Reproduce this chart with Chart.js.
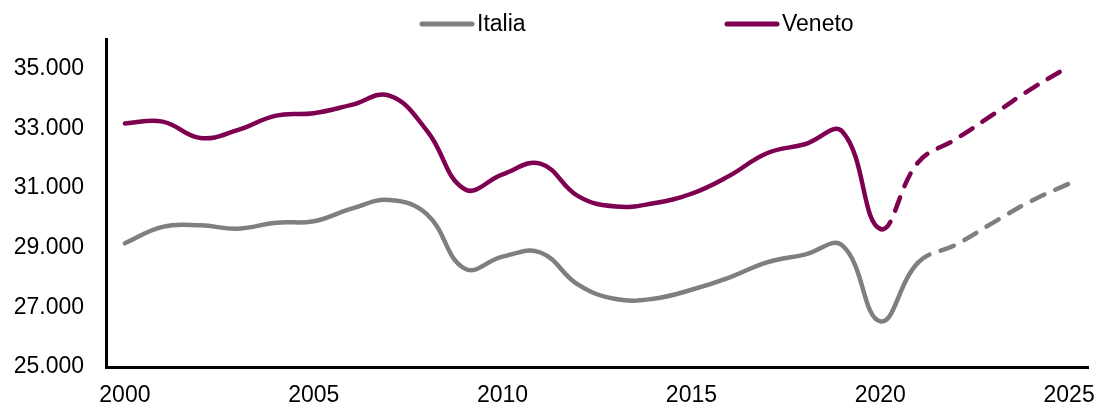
<!DOCTYPE html>
<html>
<head>
<meta charset="utf-8">
<script src="https://cdn.jsdelivr.net/npm/chart.js@4.4.1/dist/chart.umd.min.js"></script>
<style>
    body { margin: 0; background: #fff; }
    #wrap { width: 1098px; height: 405px; position: relative; }
</style>
</head>
<body>
<div id="wrap"><canvas id="reddito"></canvas></div>
<script>
const anni = ['2000', '2001', '2002', '2003', '2004', '2005', '2006', '2007', '2008', '2009',
    '2010', '2011', '2012', '2013', '2014', '2015', '2016', '2017', '2018', '2019',
    '2020', '2021', '2022', '2023', '2024', '2025'];
const italia = [29150, 29700, 29750, 29640, 29840, 29890, 30310, 30600, 30120, 28300,
    28700, 28840, 27760, 27280, 27290, 27590, 28000, 28510, 28770, 29070,
    26530, 28500, 29100, 29850, 30570, 31150];
const veneto = [33170, 33230, 32680, 32950, 33430, 33510, 33790, 34100, 32920, 30960,
    31460, 31820, 30730, 30380, 30490, 30810, 31410, 32170, 32470, 32890,
    29630, 31860, 32640, 33480, 34330, 35080];
const yTicks = [25000, 27000, 29000, 31000, 33000, 35000];

const font = {family: '"Liberation Sans", Arial, sans-serif', size: 23};

function migliaia(v) {
    return String(v).replace(/\B(?=(\d{3})+(?!\d))/g, '.');
}

// previsioni tratteggiate
function tratteggio(fromIndex) {
    return {
        borderDash: ctx => ctx.p0DataIndex >= fromIndex ? [14, 12] : undefined
    };
}

// legenda disegnata a mano, come nel grafico originale
const legendaManuale = {
    id: 'legendaManuale',
    afterDraw(chart) {
        const ctx = chart.ctx;
        const pos = [420, 725];
        ctx.save();
        ctx.font = font.size + 'px ' + font.family;
        ctx.textBaseline = 'middle';
        chart.data.datasets.forEach((ds, i) => {
            const x = pos[i];
            ctx.strokeStyle = ds.borderColor;
            ctx.lineWidth = 5;
            ctx.lineCap = 'round';
            ctx.beginPath();
            ctx.moveTo(x + 2, 24);
            ctx.lineTo(x + 52, 24);
            ctx.stroke();
            ctx.fillStyle = '#000';
            ctx.fillText(ds.label, x + 57, 25);
        });
        ctx.restore();
    }
};

new Chart(document.getElementById('reddito').getContext('2d'), {
    type: 'line',
    data: {
        labels: anni,
        datasets: [
            {label: 'Italia', data: italia, borderColor: '#7f7f7f', borderWidth: 4.5, tension: 0.42,
                pointRadius: 0, borderCapStyle: 'round', borderJoinStyle: 'round', segment: tratteggio(21)},
            {label: 'Veneto', data: veneto, borderColor: '#7e0050', borderWidth: 4.5, tension: 0.42,
                pointRadius: 0, borderCapStyle: 'round', borderJoinStyle: 'round', segment: tratteggio(20)},
        ]
    },
    options: {
        responsive: true,
        maintainAspectRatio: false,
        animation: false,
        layout: {padding: {top: 39, right: 10, left: 0, bottom: 0}},
        plugins: {
            legend: {display: false},
            tooltip: {enabled: false}
        },
        scales: {
            x: {
                type: 'category',
                offset: true,
                grid: {display: false, drawTicks: false},
                border: {display: true, color: '#000', width: 3},
                ticks: {
                    autoSkip: false,
                    maxRotation: 0,
                    padding: 15,
                    color: '#000',
                    font: font,
                    callback: function (v, i) {
                        const a = anni[i];
                        return Number(a) % 5 === 0 ? a : '';
                    }
                },
                afterFit: s => {
                    s.height = 38;
                    s.paddingLeft = 0;
                    s.paddingRight = 0;
                }
            },
            y: {
                min: 25000,
                max: 36000,
                grid: {display: false, drawTicks: false},
                border: {display: true, color: '#000', width: 3},
                afterBuildTicks: s => { s.ticks = yTicks.map(v => ({value: v})); },
                ticks: {
                    padding: 22,
                    color: '#000',
                    font: font,
                    callback: v => migliaia(v)
                },
                afterFit: s => {
                    s.width = 106;
                    s.paddingTop = 0;
                    s.paddingBottom = 0;
                }
            }
        }
    },
    plugins: [legendaManuale]
});
</script>
</body>
</html>
